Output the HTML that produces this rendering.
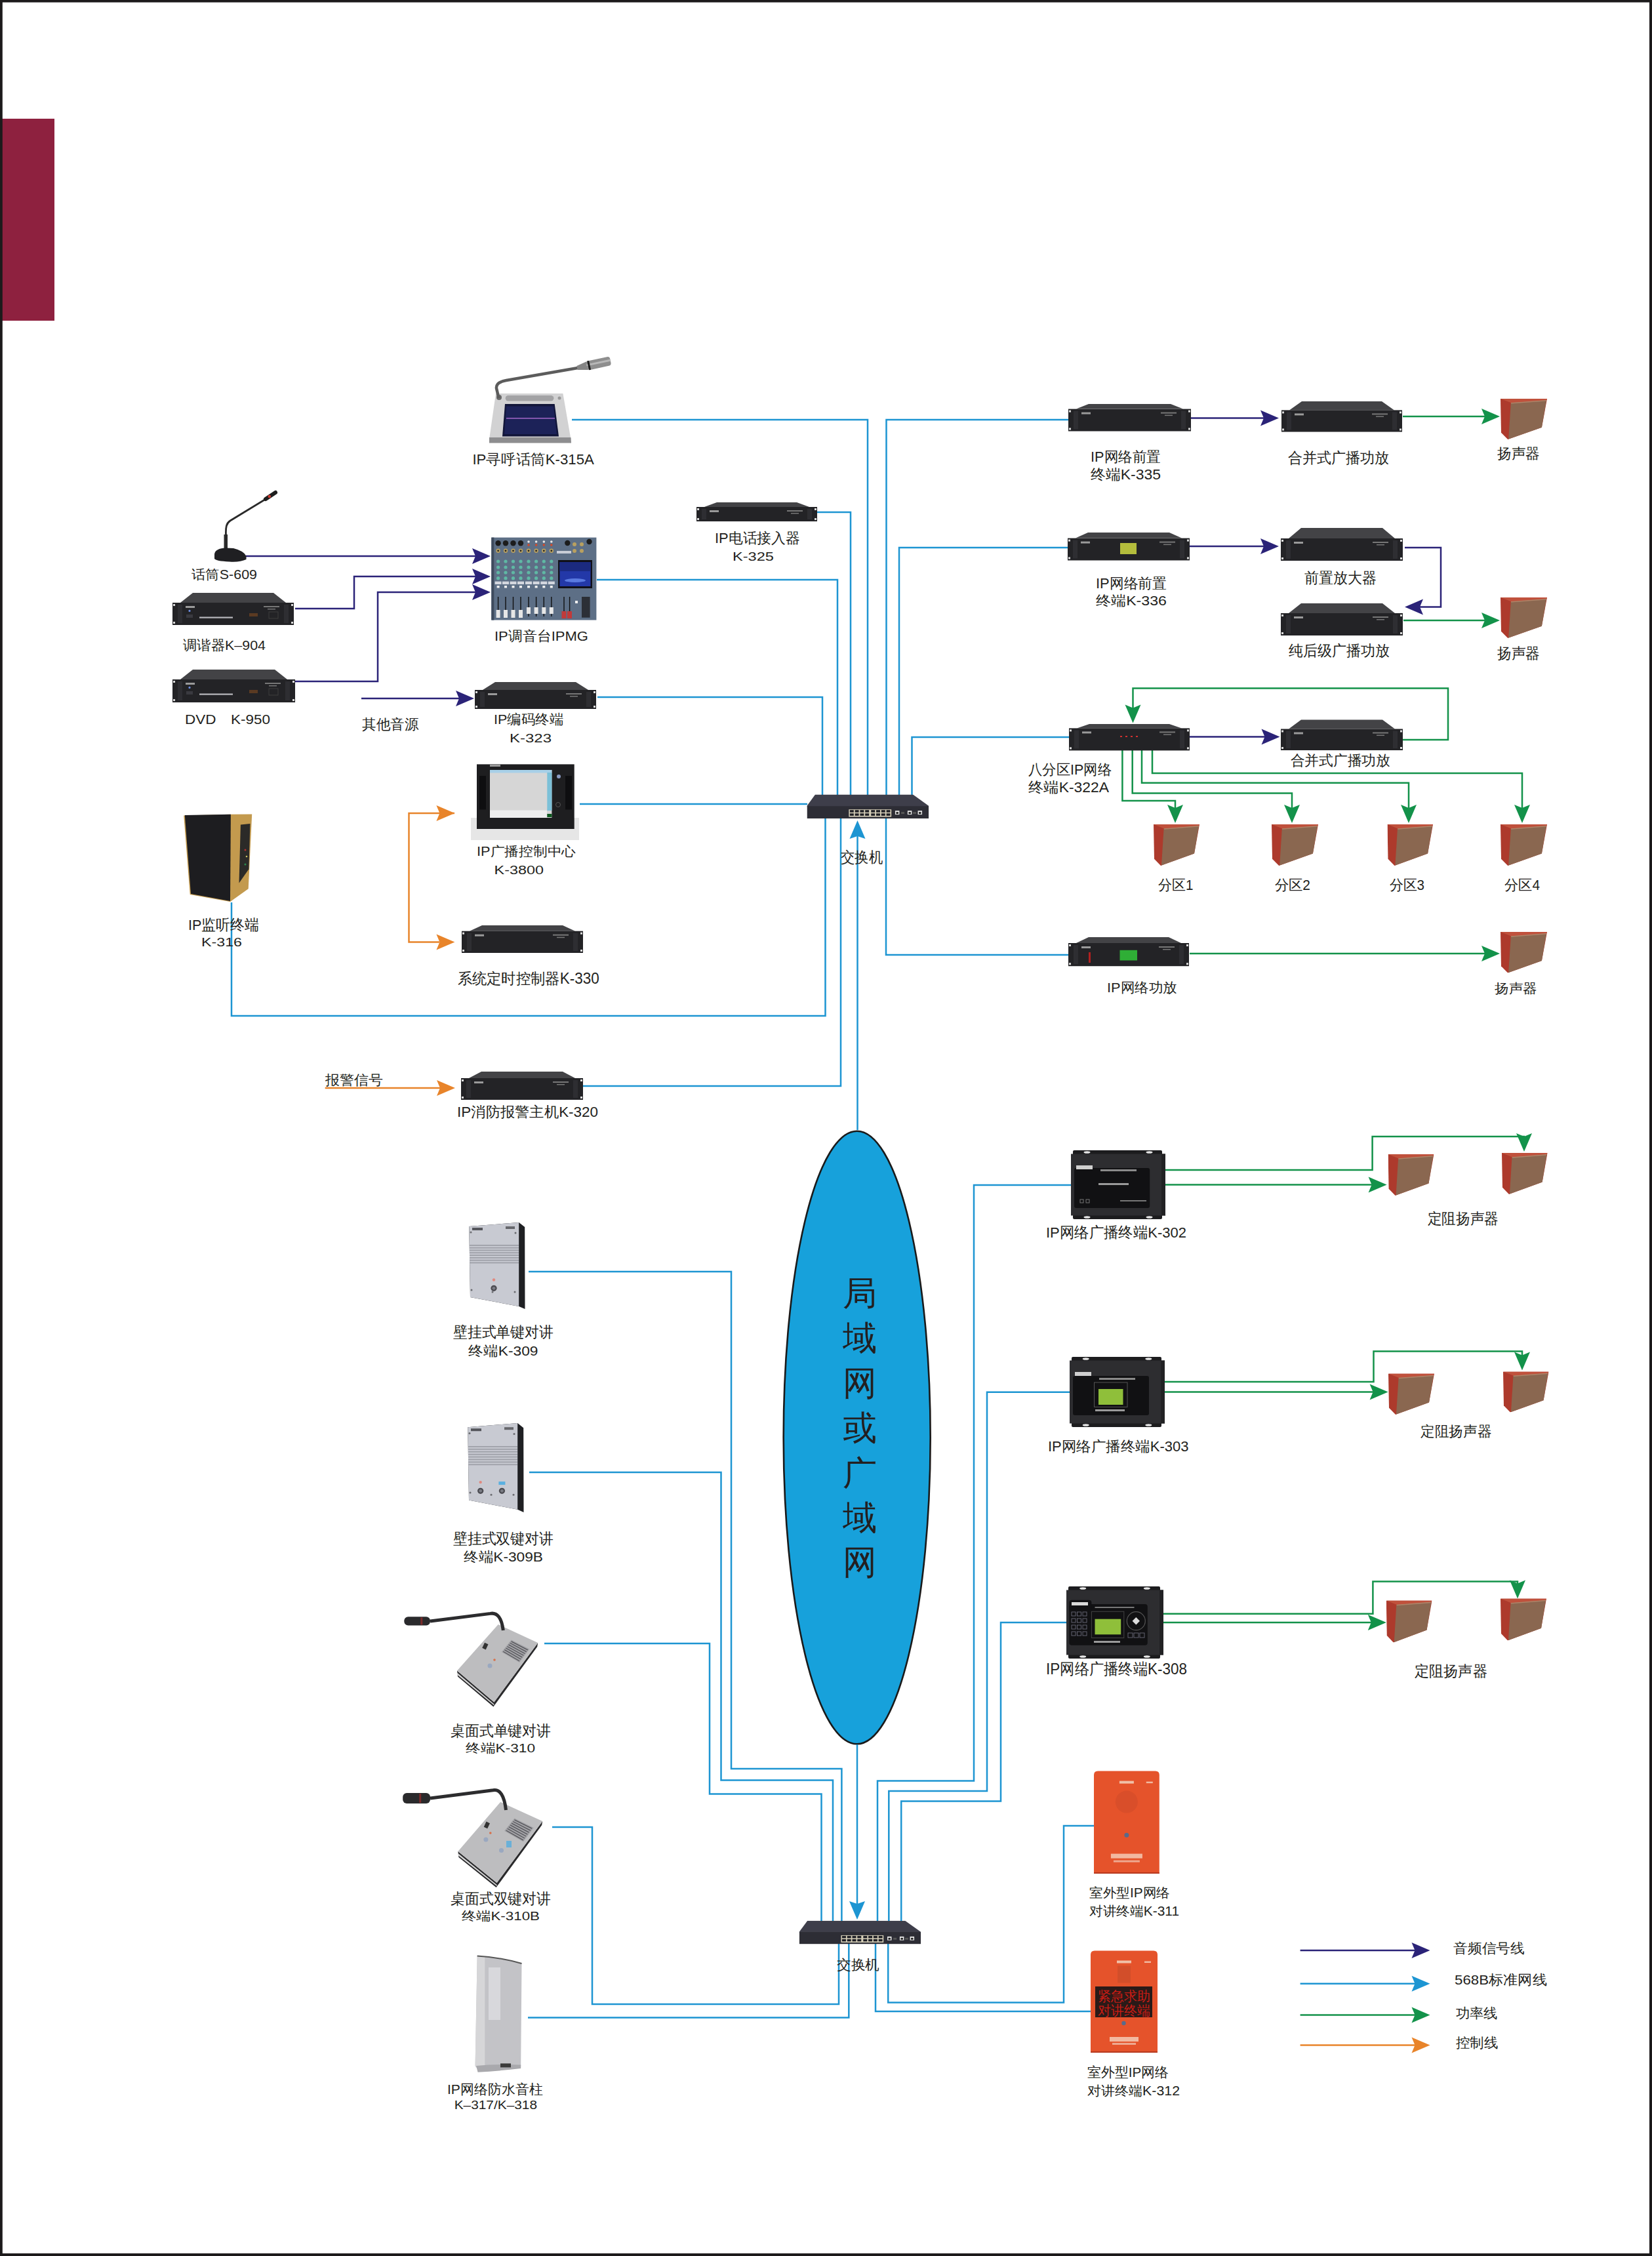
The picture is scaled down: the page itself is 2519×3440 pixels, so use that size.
<!DOCTYPE html>
<html><head><meta charset="utf-8"><style>
html,body{margin:0;padding:0;background:#fff;}
svg{display:block;font-family:"Liberation Sans",sans-serif;}
</style></head><body>
<svg width="2519" height="3440" viewBox="0 0 2519 3440">

<defs>
<symbol id="rack" viewBox="0 0 186 47" preserveAspectRatio="none">
  <polygon points="31,0 155,0 173,13 12,13" fill="#434346"/>
  <rect x="0" y="13" width="186" height="34" fill="#232326"/>
  <rect x="8" y="16" width="7" height="28" fill="#2c2c30"/>
  <rect x="171" y="16" width="7" height="28" fill="#2c2c30"/>
  <rect x="1" y="15" width="3" height="3" fill="#ddd"/>
  <rect x="1" y="42" width="3" height="3" fill="#ddd"/>
  <rect x="182" y="15" width="3" height="3" fill="#ddd"/>
  <rect x="182" y="42" width="3" height="3" fill="#ddd"/>
  <rect x="20" y="19" width="14" height="3" fill="#9a9a9a"/>
  <rect x="140" y="19" width="24" height="2" fill="#777"/>
  <rect x="146" y="23" width="12" height="1.5" fill="#777"/>
</symbol>
<symbol id="rack1u" viewBox="0 0 186 30" preserveAspectRatio="none">
  <polygon points="25,0 160,0 173,7 12,7" fill="#3d3d40"/>
  <rect x="0" y="7" width="186" height="23" fill="#1f1f22"/>
  <rect x="8" y="10" width="5" height="17" fill="#2c2c30"/>
  <rect x="173" y="10" width="5" height="17" fill="#2c2c30"/>
  <rect x="20" y="11" width="14" height="3" fill="#9a9a9a"/>
  <rect x="140" y="12" width="24" height="2" fill="#777"/>
</symbol>
<symbol id="spk" viewBox="0 0 70 61" preserveAspectRatio="none">
  <polygon points="0,0 70,0 62,43 11,61 1,51" fill="#ad3a2c"/>
  <polygon points="15.6,6 69,2 62,43 12,60.5" fill="#8a6750"/>
  <polygon points="0,0 70,0 69,2 15.6,6" fill="#c0513c"/>
  <polygon points="15.6,6 69,2 68.5,3.5 16,7.5" fill="#b08468"/>
</symbol>
<symbol id="box3" viewBox="0 0 145 105" preserveAspectRatio="none">
  <rect x="4" y="3" width="136" height="99" rx="3" fill="#222226"/>
  <rect x="0" y="6" width="145" height="93" rx="2" fill="#1a1a1e"/>
  <rect x="10" y="10" width="124" height="82" fill="#141417"/>
  <rect x="20" y="2" width="10" height="3" fill="#ccc"/>
  <rect x="115" y="2" width="10" height="3" fill="#ccc"/>
  <rect x="20" y="100" width="10" height="3" fill="#ccc"/>
  <rect x="115" y="100" width="10" height="3" fill="#ccc"/>
  <rect x="9" y="24" width="22" height="5" fill="#aaa"/>
</symbol>
<symbol id="switch" viewBox="0 0 186 37" preserveAspectRatio="none">
  <polygon points="12.6,0 162,0 186,17.5 186,19 0,19 0,17.5" fill="#3e3e4a"/>
  <rect x="0" y="18" width="186" height="19" fill="#2d2d35"/>
  <rect x="64" y="23" width="65" height="11.5" fill="#d6cfb8"/>
  <rect x="65.5" y="24.0" width="6" height="3.6" fill="#1e1e24"/>
  <rect x="65.5" y="29.2" width="6" height="3.6" fill="#1e1e24"/>
  <rect x="73.3" y="24.0" width="6" height="3.6" fill="#1e1e24"/>
  <rect x="73.3" y="29.2" width="6" height="3.6" fill="#1e1e24"/>
  <rect x="81.1" y="24.0" width="6" height="3.6" fill="#1e1e24"/>
  <rect x="81.1" y="29.2" width="6" height="3.6" fill="#1e1e24"/>
  <rect x="88.9" y="24.0" width="6" height="3.6" fill="#1e1e24"/>
  <rect x="88.9" y="29.2" width="6" height="3.6" fill="#1e1e24"/>
  <rect x="98.0" y="24.0" width="6" height="3.6" fill="#1e1e24"/>
  <rect x="98.0" y="29.2" width="6" height="3.6" fill="#1e1e24"/>
  <rect x="105.8" y="24.0" width="6" height="3.6" fill="#1e1e24"/>
  <rect x="105.8" y="29.2" width="6" height="3.6" fill="#1e1e24"/>
  <rect x="113.6" y="24.0" width="6" height="3.6" fill="#1e1e24"/>
  <rect x="113.6" y="29.2" width="6" height="3.6" fill="#1e1e24"/>
  <rect x="121.4" y="24.0" width="6" height="3.6" fill="#1e1e24"/>
  <rect x="121.4" y="29.2" width="6" height="3.6" fill="#1e1e24"/>
  <rect x="134.8" y="25" width="6.5" height="6" fill="#e6e6e6"/><rect x="136.3" y="27" width="3.5" height="3" fill="#222"/>
  <rect x="144" y="27" width="5" height="3" fill="#555"/>
  <rect x="153.8" y="25" width="6.5" height="6" fill="#e6e6e6"/><rect x="155.3" y="27" width="3.5" height="3" fill="#222"/>
  <rect x="162" y="27" width="5" height="3" fill="#555"/>
  <rect x="169.5" y="25" width="6.5" height="6" fill="#e6e6e6"/><rect x="171" y="27" width="3.5" height="3" fill="#222"/>
</symbol>
</defs>

<rect x="0" y="0" width="2519" height="3440" fill="#ffffff"/>
<rect x="3" y="181" width="80" height="308" fill="#8e213f"/>
<rect x="0" y="0" width="2519" height="3.6" fill="#1c1a1b"/>
<rect x="0" y="0" width="3.8" height="3440" fill="#1c1a1b"/>
<rect x="2515" y="0" width="4" height="3440" fill="#1c1a1b"/>
<rect x="0" y="3436" width="2519" height="4" fill="#1c1a1b"/>
<ellipse cx="1306.7" cy="2192" rx="112" ry="467.3" fill="#17a1db" stroke="#1a1a1a" stroke-width="2.6"/>
<polyline points="872,640 1323,640 1323,1212" fill="none" stroke="#1d95d2" stroke-width="2.5" stroke-linejoin="miter"/>
<polyline points="1629,640 1351.5,640 1351.5,1212" fill="none" stroke="#1d95d2" stroke-width="2.5" stroke-linejoin="miter"/>
<polyline points="1246,781 1297,781 1297,1212" fill="none" stroke="#1d95d2" stroke-width="2.5" stroke-linejoin="miter"/>
<polyline points="910,884 1277,884 1277,1212" fill="none" stroke="#1d95d2" stroke-width="2.5" stroke-linejoin="miter"/>
<polyline points="1628,835 1371,835 1371,1212" fill="none" stroke="#1d95d2" stroke-width="2.5" stroke-linejoin="miter"/>
<polyline points="911,1063 1254,1063 1254,1212" fill="none" stroke="#1d95d2" stroke-width="2.5" stroke-linejoin="miter"/>
<polyline points="1630,1124 1390.5,1124 1390.5,1212" fill="none" stroke="#1d95d2" stroke-width="2.5" stroke-linejoin="miter"/>
<polyline points="884,1226 1231,1226" fill="none" stroke="#1d95d2" stroke-width="2.5" stroke-linejoin="miter"/>
<polyline points="353,1376 353,1549 1258.5,1549 1258.5,1246" fill="none" stroke="#1d95d2" stroke-width="2.5" stroke-linejoin="miter"/>
<polyline points="889,1656 1282,1656 1282,1246" fill="none" stroke="#1d95d2" stroke-width="2.5" stroke-linejoin="miter"/>
<polyline points="1307.5,1723 1307.5,1270" fill="none" stroke="#1d95d2" stroke-width="2.5" stroke-linejoin="miter"/>
<polygon points="1307.5,1251.0 1295.5,1279.0 1307.5,1275.0 1319.5,1279.0" fill="#1d95d2"/>
<polyline points="1351,1246 1351,1456 1630,1456" fill="none" stroke="#1d95d2" stroke-width="2.5" stroke-linejoin="miter"/>
<polyline points="1307,2660 1307,2905" fill="none" stroke="#1d95d2" stroke-width="2.5" stroke-linejoin="miter"/>
<polygon points="1307.0,2927.0 1295.0,2899.0 1307.0,2903.0 1319.0,2899.0" fill="#1d95d2"/>
<polyline points="806,1939 1115,1939 1115,2697 1283.4,2697 1283.4,2930" fill="none" stroke="#1d95d2" stroke-width="2.5" stroke-linejoin="miter"/>
<polyline points="807,2245 1099.5,2245 1099.5,2714.5 1270,2714.5 1270,2930" fill="none" stroke="#1d95d2" stroke-width="2.5" stroke-linejoin="miter"/>
<polyline points="830,2506 1082,2506 1082,2735.5 1252.5,2735.5 1252.5,2930" fill="none" stroke="#1d95d2" stroke-width="2.5" stroke-linejoin="miter"/>
<polyline points="842,2786 903,2786 903,3056 1279,3056 1279,2962" fill="none" stroke="#1d95d2" stroke-width="2.5" stroke-linejoin="miter"/>
<polyline points="805,3076.6 1294.3,3076.6 1294.3,2962" fill="none" stroke="#1d95d2" stroke-width="2.5" stroke-linejoin="miter"/>
<polyline points="1633,1807 1485,1807 1485,2715.5 1338,2715.5 1338,2930" fill="none" stroke="#1d95d2" stroke-width="2.5" stroke-linejoin="miter"/>
<polyline points="1631,2122.7 1505,2122.7 1505,2731 1355.3,2731 1355.3,2930" fill="none" stroke="#1d95d2" stroke-width="2.5" stroke-linejoin="miter"/>
<polyline points="1626,2474 1526,2474 1526,2746.4 1374.2,2746.4 1374.2,2930" fill="none" stroke="#1d95d2" stroke-width="2.5" stroke-linejoin="miter"/>
<polyline points="1668,2784 1622,2784 1622,3053.4 1354.2,3053.4 1354.2,2962" fill="none" stroke="#1d95d2" stroke-width="2.5" stroke-linejoin="miter"/>
<polyline points="1663,3067 1335,3067 1335,2962" fill="none" stroke="#1d95d2" stroke-width="2.5" stroke-linejoin="miter"/>
<polyline points="375,848 725,848" fill="none" stroke="#2b2378" stroke-width="2.5" stroke-linejoin="miter"/>
<polygon points="748.0,848.0 720.0,836.0 725.0,848.0 720.0,860.0" fill="#2b2378"/>
<polyline points="450,928 540,928 540,879 725,879" fill="none" stroke="#2b2378" stroke-width="2.5" stroke-linejoin="miter"/>
<polygon points="748.0,879.0 720.0,867.0 725.0,879.0 720.0,891.0" fill="#2b2378"/>
<polyline points="450,1039 576,1039 576,903 725,903" fill="none" stroke="#2b2378" stroke-width="2.5" stroke-linejoin="miter"/>
<polygon points="748.0,903.0 720.0,891.0 725.0,903.0 720.0,915.0" fill="#2b2378"/>
<polyline points="551,1065 700,1065" fill="none" stroke="#2b2378" stroke-width="2.5" stroke-linejoin="miter"/>
<polygon points="723.0,1065.0 695.0,1053.0 700.0,1065.0 695.0,1077.0" fill="#2b2378"/>
<polyline points="1816,637.5 1928,637.5" fill="none" stroke="#2b2378" stroke-width="2.5" stroke-linejoin="miter"/>
<polygon points="1950.0,637.5 1922.0,625.5 1927.0,637.5 1922.0,649.5" fill="#2b2378"/>
<polyline points="1814,833 1928,833" fill="none" stroke="#2b2378" stroke-width="2.5" stroke-linejoin="miter"/>
<polygon points="1950.0,833.0 1922.0,821.0 1927.0,833.0 1922.0,845.0" fill="#2b2378"/>
<polyline points="2142,835 2197,835 2197,925.6 2165,925.6" fill="none" stroke="#2b2378" stroke-width="2.5" stroke-linejoin="miter"/>
<polygon points="2142.0,925.6 2170.0,913.6 2165.0,925.6 2170.0,937.6" fill="#2b2378"/>
<polyline points="1814,1123.6 1930,1123.6" fill="none" stroke="#2b2378" stroke-width="2.5" stroke-linejoin="miter"/>
<polygon points="1951.5,1123.6 1923.5,1111.6 1928.5,1123.6 1923.5,1135.6" fill="#2b2378"/>
<polyline points="2139,635 2265,635" fill="none" stroke="#13924a" stroke-width="2.5" stroke-linejoin="miter"/>
<polygon points="2287.0,635.0 2259.0,623.0 2264.0,635.0 2259.0,647.0" fill="#13924a"/>
<polyline points="2140,946 2265,946" fill="none" stroke="#13924a" stroke-width="2.5" stroke-linejoin="miter"/>
<polygon points="2287.0,946.0 2259.0,934.0 2264.0,946.0 2259.0,958.0" fill="#13924a"/>
<polyline points="2139,1128 2208,1128 2208,1049.6 1727.5,1049.6 1727.5,1080" fill="none" stroke="#13924a" stroke-width="2.5" stroke-linejoin="miter"/>
<polygon points="1727.5,1102.6 1715.5,1074.6 1727.5,1079.6 1739.5,1074.6" fill="#13924a"/>
<polyline points="1711.4,1144 1711.4,1221 1792,1221 1792,1235" fill="none" stroke="#13924a" stroke-width="2.5" stroke-linejoin="miter"/>
<polygon points="1792.0,1255.0 1780.0,1227.0 1792.0,1232.0 1804.0,1227.0" fill="#13924a"/>
<polyline points="1726.7,1144 1726.7,1209.4 1970,1209.4 1970,1235" fill="none" stroke="#13924a" stroke-width="2.5" stroke-linejoin="miter"/>
<polygon points="1970.0,1255.0 1958.0,1227.0 1970.0,1232.0 1982.0,1227.0" fill="#13924a"/>
<polyline points="1741,1144 1741,1193.7 2148,1193.7 2148,1235" fill="none" stroke="#13924a" stroke-width="2.5" stroke-linejoin="miter"/>
<polygon points="2148.0,1255.0 2136.0,1227.0 2148.0,1232.0 2160.0,1227.0" fill="#13924a"/>
<polyline points="1757,1144 1757,1179 2321,1179 2321,1235" fill="none" stroke="#13924a" stroke-width="2.5" stroke-linejoin="miter"/>
<polygon points="2321.0,1255.0 2309.0,1227.0 2321.0,1232.0 2333.0,1227.0" fill="#13924a"/>
<polyline points="1814,1454 2265,1454" fill="none" stroke="#13924a" stroke-width="2.5" stroke-linejoin="miter"/>
<polygon points="2287.0,1454.0 2259.0,1442.0 2264.0,1454.0 2259.0,1466.0" fill="#13924a"/>
<polyline points="1777,1784 2092.6,1784 2092.6,1733 2324,1733 2324,1740" fill="none" stroke="#13924a" stroke-width="2.5" stroke-linejoin="miter"/>
<polygon points="2324.0,1756.0 2312.0,1728.0 2324.0,1733.0 2336.0,1728.0" fill="#13924a"/>
<polyline points="1777,1806.6 2095,1806.6" fill="none" stroke="#13924a" stroke-width="2.5" stroke-linejoin="miter"/>
<polygon points="2114.6,1806.6 2086.6,1794.6 2091.6,1806.6 2086.6,1818.6" fill="#13924a"/>
<polyline points="1776,2107 2094.5,2107 2094.5,2060.5 2321,2060.5 2321,2070" fill="none" stroke="#13924a" stroke-width="2.5" stroke-linejoin="miter"/>
<polygon points="2321.0,2089.5 2309.0,2061.5 2321.0,2066.5 2333.0,2061.5" fill="#13924a"/>
<polyline points="1776,2122.5 2095,2122.5" fill="none" stroke="#13924a" stroke-width="2.5" stroke-linejoin="miter"/>
<polygon points="2116.6,2122.5 2088.6,2110.5 2093.6,2122.5 2088.6,2134.5" fill="#13924a"/>
<polyline points="1774,2460.8 2093.4,2460.8 2093.4,2411.4 2314,2411.4 2314,2420" fill="none" stroke="#13924a" stroke-width="2.5" stroke-linejoin="miter"/>
<polygon points="2314.0,2437.6 2302.0,2409.6 2314.0,2414.6 2326.0,2409.6" fill="#13924a"/>
<polyline points="1774,2474 2092,2474" fill="none" stroke="#13924a" stroke-width="2.5" stroke-linejoin="miter"/>
<polygon points="2113.8,2474.0 2085.8,2462.0 2090.8,2474.0 2085.8,2486.0" fill="#13924a"/>
<polyline points="693,1240 623.5,1240 623.5,1436.6 670,1436.6" fill="none" stroke="#e8842a" stroke-width="2.5" stroke-linejoin="miter"/>
<polygon points="693.4,1240.0 665.4,1228.0 670.4,1240.0 665.4,1252.0" fill="#e8842a"/>
<polygon points="693.4,1436.6 665.4,1424.6 670.4,1436.6 665.4,1448.6" fill="#e8842a"/>
<polyline points="495.7,1659 672,1659" fill="none" stroke="#e8842a" stroke-width="2.5" stroke-linejoin="miter"/>
<polygon points="694.0,1659.0 666.0,1647.0 671.0,1659.0 666.0,1671.0" fill="#e8842a"/>
<polyline points="1982.6,2974 2160,2974" fill="none" stroke="#2b2378" stroke-width="2.5" stroke-linejoin="miter"/>
<polygon points="2180.5,2974.0 2152.5,2962.0 2157.5,2974.0 2152.5,2986.0" fill="#2b2378"/>
<polyline points="1982.6,3024.7 2160,3024.7" fill="none" stroke="#1d95d2" stroke-width="2.5" stroke-linejoin="miter"/>
<polygon points="2180.5,3024.7 2152.5,3012.7 2157.5,3024.7 2152.5,3036.7" fill="#1d95d2"/>
<polyline points="1982.6,3072.4 2160,3072.4" fill="none" stroke="#13924a" stroke-width="2.5" stroke-linejoin="miter"/>
<polygon points="2180.5,3072.4 2152.5,3060.4 2157.5,3072.4 2152.5,3084.4" fill="#13924a"/>
<polyline points="1982.6,3118.5 2160,3118.5" fill="none" stroke="#e8842a" stroke-width="2.5" stroke-linejoin="miter"/>
<polygon points="2180.5,3118.5 2152.5,3106.5 2157.5,3118.5 2152.5,3130.5" fill="#e8842a"/>
<polygon points="294,904 417,904 436,919 275,919" fill="#434346"/>
<rect x="263" y="919" width="185" height="34" fill="#232326"/>
<rect x="271" y="922" width="7" height="28" fill="#2e2e32"/>
<rect x="433" y="922" width="7" height="28" fill="#2e2e32"/>
<rect x="264" y="921" width="3" height="3" fill="#ddd"/>
<rect x="444" y="921" width="3" height="3" fill="#ddd"/>
<rect x="264" y="948" width="3" height="3" fill="#ddd"/>
<rect x="444" y="948" width="3" height="3" fill="#ddd"/>
<rect x="283" y="924" width="14" height="3" fill="#9a9a9a"/>
<rect x="402" y="924" width="24" height="2" fill="#777"/>
<rect x="408" y="928" width="12" height="1.5" fill="#777"/>
<polygon points="294,1021 419,1021 438,1036 275,1036" fill="#434346"/>
<rect x="263" y="1036" width="187" height="35" fill="#232326"/>
<rect x="271" y="1039" width="7" height="29" fill="#2e2e32"/>
<rect x="435" y="1039" width="7" height="29" fill="#2e2e32"/>
<rect x="264" y="1038" width="3" height="3" fill="#ddd"/>
<rect x="446" y="1038" width="3" height="3" fill="#ddd"/>
<rect x="264" y="1066" width="3" height="3" fill="#ddd"/>
<rect x="446" y="1066" width="3" height="3" fill="#ddd"/>
<rect x="283" y="1041" width="14" height="3" fill="#9a9a9a"/>
<rect x="404" y="1041" width="24" height="2" fill="#777"/>
<rect x="410" y="1045" width="12" height="1.5" fill="#777"/>
<polygon points="755,1040 878,1040 897,1052 736,1052" fill="#434346"/>
<rect x="724" y="1052" width="185" height="29" fill="#232326"/>
<rect x="732" y="1055" width="7" height="23" fill="#2e2e32"/>
<rect x="894" y="1055" width="7" height="23" fill="#2e2e32"/>
<rect x="725" y="1054" width="3" height="3" fill="#ddd"/>
<rect x="905" y="1054" width="3" height="3" fill="#ddd"/>
<rect x="725" y="1076" width="3" height="3" fill="#ddd"/>
<rect x="905" y="1076" width="3" height="3" fill="#ddd"/>
<rect x="744" y="1057" width="14" height="3" fill="#9a9a9a"/>
<rect x="863" y="1057" width="24" height="2" fill="#777"/>
<rect x="869" y="1061" width="12" height="1.5" fill="#777"/>
<polygon points="735,1411 858,1411 877,1419.7 716,1419.7" fill="#434346"/>
<rect x="704" y="1419.7" width="185" height="33.299999999999955" fill="#232326"/>
<rect x="712" y="1422.7" width="7" height="27.299999999999955" fill="#2e2e32"/>
<rect x="874" y="1422.7" width="7" height="27.299999999999955" fill="#2e2e32"/>
<rect x="705" y="1421.7" width="3" height="3" fill="#ddd"/>
<rect x="885" y="1421.7" width="3" height="3" fill="#ddd"/>
<rect x="705" y="1448" width="3" height="3" fill="#ddd"/>
<rect x="885" y="1448" width="3" height="3" fill="#ddd"/>
<rect x="724" y="1424.7" width="14" height="3" fill="#9a9a9a"/>
<rect x="843" y="1424.7" width="24" height="2" fill="#777"/>
<rect x="849" y="1428.7" width="12" height="1.5" fill="#777"/>
<polygon points="734,1634 858,1634 877,1644 715,1644" fill="#434346"/>
<rect x="703" y="1644" width="186" height="33" fill="#232326"/>
<rect x="711" y="1647" width="7" height="27" fill="#2e2e32"/>
<rect x="874" y="1647" width="7" height="27" fill="#2e2e32"/>
<rect x="704" y="1646" width="3" height="3" fill="#ddd"/>
<rect x="885" y="1646" width="3" height="3" fill="#ddd"/>
<rect x="704" y="1672" width="3" height="3" fill="#ddd"/>
<rect x="885" y="1672" width="3" height="3" fill="#ddd"/>
<rect x="723" y="1649" width="14" height="3" fill="#9a9a9a"/>
<rect x="843" y="1649" width="24" height="2" fill="#777"/>
<rect x="849" y="1653" width="12" height="1.5" fill="#777"/>
<polygon points="1660,616 1785,616 1804,623.6 1641,623.6" fill="#434346"/>
<rect x="1629" y="623.6" width="187" height="33.89999999999998" fill="#232326"/>
<rect x="1637" y="626.6" width="7" height="27.899999999999977" fill="#2e2e32"/>
<rect x="1801" y="626.6" width="7" height="27.899999999999977" fill="#2e2e32"/>
<rect x="1630" y="625.6" width="3" height="3" fill="#ddd"/>
<rect x="1812" y="625.6" width="3" height="3" fill="#ddd"/>
<rect x="1630" y="652.5" width="3" height="3" fill="#ddd"/>
<rect x="1812" y="652.5" width="3" height="3" fill="#ddd"/>
<rect x="1649" y="628.6" width="14" height="3" fill="#9a9a9a"/>
<rect x="1770" y="628.6" width="24" height="2" fill="#777"/>
<rect x="1776" y="632.6" width="12" height="1.5" fill="#777"/>
<polygon points="1985,612 2107,612 2126,625.4 1966,625.4" fill="#434346"/>
<rect x="1954" y="625.4" width="184" height="33.10000000000002" fill="#232326"/>
<rect x="1962" y="628.4" width="7" height="27.100000000000023" fill="#2e2e32"/>
<rect x="2123" y="628.4" width="7" height="27.100000000000023" fill="#2e2e32"/>
<rect x="1955" y="627.4" width="3" height="3" fill="#ddd"/>
<rect x="2134" y="627.4" width="3" height="3" fill="#ddd"/>
<rect x="1955" y="653.5" width="3" height="3" fill="#ddd"/>
<rect x="2134" y="653.5" width="3" height="3" fill="#ddd"/>
<rect x="1974" y="630.4" width="14" height="3" fill="#9a9a9a"/>
<rect x="2092" y="630.4" width="24" height="2" fill="#777"/>
<rect x="2098" y="634.4" width="12" height="1.5" fill="#777"/>
<polygon points="1659,812 1783,812 1802,820.6 1640,820.6" fill="#434346"/>
<rect x="1628" y="820.6" width="186" height="33.89999999999998" fill="#232326"/>
<rect x="1636" y="823.6" width="7" height="27.899999999999977" fill="#2e2e32"/>
<rect x="1799" y="823.6" width="7" height="27.899999999999977" fill="#2e2e32"/>
<rect x="1629" y="822.6" width="3" height="3" fill="#ddd"/>
<rect x="1810" y="822.6" width="3" height="3" fill="#ddd"/>
<rect x="1629" y="849.5" width="3" height="3" fill="#ddd"/>
<rect x="1810" y="849.5" width="3" height="3" fill="#ddd"/>
<rect x="1648" y="825.6" width="14" height="3" fill="#9a9a9a"/>
<rect x="1768" y="825.6" width="24" height="2" fill="#777"/>
<rect x="1774" y="829.6" width="12" height="1.5" fill="#777"/>
<polygon points="1984,805 2108,805 2127,821 1965,821" fill="#434346"/>
<rect x="1953" y="821" width="186" height="34" fill="#232326"/>
<rect x="1961" y="824" width="7" height="28" fill="#2e2e32"/>
<rect x="2124" y="824" width="7" height="28" fill="#2e2e32"/>
<rect x="1954" y="823" width="3" height="3" fill="#ddd"/>
<rect x="2135" y="823" width="3" height="3" fill="#ddd"/>
<rect x="1954" y="850" width="3" height="3" fill="#ddd"/>
<rect x="2135" y="850" width="3" height="3" fill="#ddd"/>
<rect x="1973" y="826" width="14" height="3" fill="#9a9a9a"/>
<rect x="2093" y="826" width="24" height="2" fill="#777"/>
<rect x="2099" y="830" width="12" height="1.5" fill="#777"/>
<polygon points="1984,920 2108,920 2127,935 1965,935" fill="#434346"/>
<rect x="1953" y="935" width="186" height="34" fill="#232326"/>
<rect x="1961" y="938" width="7" height="28" fill="#2e2e32"/>
<rect x="2124" y="938" width="7" height="28" fill="#2e2e32"/>
<rect x="1954" y="937" width="3" height="3" fill="#ddd"/>
<rect x="2135" y="937" width="3" height="3" fill="#ddd"/>
<rect x="1954" y="964" width="3" height="3" fill="#ddd"/>
<rect x="2135" y="964" width="3" height="3" fill="#ddd"/>
<rect x="1973" y="940" width="14" height="3" fill="#9a9a9a"/>
<rect x="2093" y="940" width="24" height="2" fill="#777"/>
<rect x="2099" y="944" width="12" height="1.5" fill="#777"/>
<polygon points="1661,1104 1783,1104 1802,1110.4 1642,1110.4" fill="#434346"/>
<rect x="1630" y="1110.4" width="184" height="34.0" fill="#232326"/>
<rect x="1638" y="1113.4" width="7" height="28.0" fill="#2e2e32"/>
<rect x="1799" y="1113.4" width="7" height="28.0" fill="#2e2e32"/>
<rect x="1631" y="1112.4" width="3" height="3" fill="#ddd"/>
<rect x="1810" y="1112.4" width="3" height="3" fill="#ddd"/>
<rect x="1631" y="1139.4" width="3" height="3" fill="#ddd"/>
<rect x="1810" y="1139.4" width="3" height="3" fill="#ddd"/>
<rect x="1650" y="1115.4" width="14" height="3" fill="#9a9a9a"/>
<rect x="1768" y="1115.4" width="24" height="2" fill="#777"/>
<rect x="1774" y="1119.4" width="12" height="1.5" fill="#777"/>
<polygon points="1984,1097.5 2108,1097.5 2127,1111.5 1965,1111.5" fill="#434346"/>
<rect x="1953" y="1111.5" width="186" height="32.5" fill="#232326"/>
<rect x="1961" y="1114.5" width="7" height="26.5" fill="#2e2e32"/>
<rect x="2124" y="1114.5" width="7" height="26.5" fill="#2e2e32"/>
<rect x="1954" y="1113.5" width="3" height="3" fill="#ddd"/>
<rect x="2135" y="1113.5" width="3" height="3" fill="#ddd"/>
<rect x="1954" y="1139" width="3" height="3" fill="#ddd"/>
<rect x="2135" y="1139" width="3" height="3" fill="#ddd"/>
<rect x="1973" y="1116.5" width="14" height="3" fill="#9a9a9a"/>
<rect x="2093" y="1116.5" width="24" height="2" fill="#777"/>
<rect x="2099" y="1120.5" width="12" height="1.5" fill="#777"/>
<polygon points="1660,1429 1782,1429 1801,1438 1641,1438" fill="#434346"/>
<rect x="1629" y="1438" width="184" height="35.200000000000045" fill="#232326"/>
<rect x="1637" y="1441" width="7" height="29.200000000000045" fill="#2e2e32"/>
<rect x="1798" y="1441" width="7" height="29.200000000000045" fill="#2e2e32"/>
<rect x="1630" y="1440" width="3" height="3" fill="#ddd"/>
<rect x="1809" y="1440" width="3" height="3" fill="#ddd"/>
<rect x="1630" y="1468.2" width="3" height="3" fill="#ddd"/>
<rect x="1809" y="1468.2" width="3" height="3" fill="#ddd"/>
<rect x="1649" y="1443" width="14" height="3" fill="#9a9a9a"/>
<rect x="1767" y="1443" width="24" height="2" fill="#777"/>
<rect x="1773" y="1447" width="12" height="1.5" fill="#777"/>
<polygon points="1093,766 1215,766 1234,773 1074,773" fill="#434346"/>
<rect x="1062" y="773" width="184" height="22" fill="#232326"/>
<rect x="1070" y="776" width="7" height="16" fill="#2e2e32"/>
<rect x="1231" y="776" width="7" height="16" fill="#2e2e32"/>
<rect x="1063" y="775" width="3" height="3" fill="#ddd"/>
<rect x="1242" y="775" width="3" height="3" fill="#ddd"/>
<rect x="1063" y="790" width="3" height="3" fill="#ddd"/>
<rect x="1242" y="790" width="3" height="3" fill="#ddd"/>
<rect x="1082" y="778" width="14" height="3" fill="#9a9a9a"/>
<rect x="1200" y="778" width="24" height="2" fill="#777"/>
<rect x="1206" y="782" width="12" height="1.5" fill="#777"/>
<rect x="304" y="940.5" width="51" height="2.2" fill="#b8b8bc"/>
<circle cx="289" cy="931.4" r="1.6" fill="#6a8ae0"/>
<rect x="284" y="937" width="10" height="5" fill="#3a3a40"/>
<rect x="380" y="935" width="13" height="5" fill="#5a3a22"/>
<rect x="410" y="933" width="14" height="10" fill="none" stroke="#444" stroke-width="0.8"/>
<rect x="304" y="1057.5" width="51" height="2.2" fill="#b8b8bc"/>
<circle cx="289" cy="1048.4" r="1.6" fill="#6a8ae0"/>
<rect x="284" y="1054" width="10" height="5" fill="#3a3a40"/>
<rect x="380" y="1052" width="13" height="5" fill="#5a3a22"/>
<rect x="410" y="1050" width="14" height="10" fill="none" stroke="#444" stroke-width="0.8"/>
<use href="#spk" x="2288" y="608" width="71" height="62"/>
<use href="#spk" x="2288" y="911" width="71" height="62"/>
<use href="#spk" x="1759" y="1257" width="70" height="63"/>
<use href="#spk" x="1939" y="1257" width="71" height="63"/>
<use href="#spk" x="2115.5" y="1257" width="69.5" height="63"/>
<use href="#spk" x="2288" y="1257" width="71" height="63"/>
<use href="#spk" x="2288" y="1421" width="71" height="62.5"/>
<use href="#spk" x="2116.6" y="1760" width="69.80000000000018" height="63"/>
<use href="#spk" x="2290" y="1758" width="69.59999999999991" height="63"/>
<use href="#spk" x="2117" y="2094.6" width="70" height="62.40000000000009"/>
<use href="#spk" x="2292" y="2091.5" width="69.5" height="62.0"/>
<use href="#spk" x="2113.8" y="2440.5" width="69.69999999999982" height="63.90000000000009"/>
<use href="#spk" x="2288" y="2437.6" width="70" height="63.90000000000009"/>
<rect x="1636" y="1754" width="136" height="8" rx="2" fill="#1c1c1e"/>
<rect x="1636" y="1851" width="136" height="8" rx="2" fill="#1c1c1e"/>
<rect x="1633" y="1759.5" width="144" height="94" fill="#2d2d30"/>
<rect x="1771" y="1759.5" width="6" height="94" fill="#222224"/>
<ellipse cx="1657.5" cy="1757" rx="5" ry="1.8" fill="#e8e8e8"/>
<ellipse cx="1657.5" cy="1856" rx="5" ry="1.8" fill="#e8e8e8"/>
<ellipse cx="1752.5" cy="1757" rx="5" ry="1.8" fill="#e8e8e8"/>
<ellipse cx="1752.5" cy="1856" rx="5" ry="1.8" fill="#e8e8e8"/>
<rect x="1638" y="1781" width="115.2" height="60.9" rx="3" fill="#111113"/>
<rect x="1641" y="1777" width="25" height="6" fill="#cfcfcf"/>
<rect x="1678" y="1783" width="55" height="3" fill="#8a8a8a"/>
<rect x="1675" y="1804" width="46" height="3" fill="#9a9a9a"/>
<rect x="1708" y="1830" width="40" height="2" fill="#777"/>
<rect x="1647" y="1829" width="5" height="5" fill="none" stroke="#777" stroke-width="1"/>
<rect x="1656" y="1829" width="5" height="5" fill="none" stroke="#777" stroke-width="1"/>
<rect x="1634" y="2069" width="137" height="8" rx="2" fill="#1c1c1e"/>
<rect x="1634" y="2168" width="137" height="8" rx="2" fill="#1c1c1e"/>
<rect x="1631" y="2074.5" width="145" height="96" fill="#2d2d30"/>
<rect x="1770" y="2074.5" width="6" height="96" fill="#222224"/>
<ellipse cx="1655.7" cy="2072" rx="5" ry="1.8" fill="#e8e8e8"/>
<ellipse cx="1655.7" cy="2173" rx="5" ry="1.8" fill="#e8e8e8"/>
<ellipse cx="1751.3" cy="2072" rx="5" ry="1.8" fill="#e8e8e8"/>
<ellipse cx="1751.3" cy="2173" rx="5" ry="1.8" fill="#e8e8e8"/>
<rect x="1636" y="2098" width="116.0" height="59.9" rx="3" fill="#111113"/>
<rect x="1639" y="2092" width="25" height="6" fill="#cfcfcf"/>
<rect x="1676" y="2101" width="55" height="3" fill="#8a8a8a"/>
<rect x="1668.5" y="2108" width="50.5" height="37.4" fill="none" stroke="#555" stroke-width="1"/>
<rect x="1675" y="2118" width="37.5" height="24" fill="#8fbf3a"/>
<rect x="1670" y="2149" width="45" height="3" fill="#9a9a9a"/>
<rect x="1629" y="2419" width="140" height="8" rx="2" fill="#1c1c1e"/>
<rect x="1629" y="2521" width="140" height="8" rx="2" fill="#1c1c1e"/>
<rect x="1626" y="2424.5" width="148" height="99" fill="#2d2d30"/>
<rect x="1768" y="2424.5" width="6" height="99" fill="#222224"/>
<ellipse cx="1651.2" cy="2422" rx="5" ry="1.8" fill="#e8e8e8"/>
<ellipse cx="1651.2" cy="2526" rx="5" ry="1.8" fill="#e8e8e8"/>
<ellipse cx="1748.8" cy="2422" rx="5" ry="1.8" fill="#e8e8e8"/>
<ellipse cx="1748.8" cy="2526" rx="5" ry="1.8" fill="#e8e8e8"/>
<rect x="1630.4" y="2446" width="119.4" height="62.8" rx="4" fill="#111113"/>
<rect x="1630.4" y="2439.8" width="34" height="20" rx="4" fill="#111113"/>
<rect x="1634" y="2443" width="25" height="5" fill="#d8d8d8"/>
<rect x="1669.5" y="2450" width="60" height="2" fill="#777"/>
<rect x="1664.4" y="2457.3" width="49.4" height="40.2" fill="none" stroke="#444" stroke-width="1"/>
<rect x="1669.5" y="2468.7" width="39.7" height="23.6" fill="#8fbf3a"/>
<circle cx="1732.3" cy="2471.7" r="14" fill="none" stroke="#555" stroke-width="1.2"/>
<polygon points="1732.3,2466 1738,2471.7 1732.3,2477.4 1726.6,2471.7" fill="#ddd"/>
<rect x="1634.0" y="2458.0" width="6" height="6" fill="none" stroke="#6a6a7a" stroke-width="0.9"/>
<rect x="1642.5" y="2458.0" width="6" height="6" fill="none" stroke="#6a6a7a" stroke-width="0.9"/>
<rect x="1651.0" y="2458.0" width="6" height="6" fill="none" stroke="#6a6a7a" stroke-width="0.9"/>
<rect x="1634.0" y="2468.0" width="6" height="6" fill="none" stroke="#6a6a7a" stroke-width="0.9"/>
<rect x="1642.5" y="2468.0" width="6" height="6" fill="none" stroke="#6a6a7a" stroke-width="0.9"/>
<rect x="1651.0" y="2468.0" width="6" height="6" fill="none" stroke="#6a6a7a" stroke-width="0.9"/>
<rect x="1634.0" y="2478.0" width="6" height="6" fill="none" stroke="#6a6a7a" stroke-width="0.9"/>
<rect x="1642.5" y="2478.0" width="6" height="6" fill="none" stroke="#6a6a7a" stroke-width="0.9"/>
<rect x="1651.0" y="2478.0" width="6" height="6" fill="none" stroke="#6a6a7a" stroke-width="0.9"/>
<rect x="1634.0" y="2488.0" width="6" height="6" fill="none" stroke="#6a6a7a" stroke-width="0.9"/>
<rect x="1642.5" y="2488.0" width="6" height="6" fill="none" stroke="#6a6a7a" stroke-width="0.9"/>
<rect x="1651.0" y="2488.0" width="6" height="6" fill="none" stroke="#6a6a7a" stroke-width="0.9"/>
<rect x="1720.0" y="2490" width="7" height="7" fill="none" stroke="#6a6a7a" stroke-width="0.9"/>
<rect x="1729.0" y="2490" width="7" height="7" fill="none" stroke="#6a6a7a" stroke-width="0.9"/>
<rect x="1738.0" y="2490" width="7" height="7" fill="none" stroke="#6a6a7a" stroke-width="0.9"/>
<rect x="1668" y="2502" width="40" height="3" fill="#9a9a9a"/>
<rect x="1708" y="828" width="25" height="17" fill="#b4bd3c"/>
<rect x="1707.5" y="1448.8" width="26.5" height="15.7" fill="#2fae36"/>
<rect x="1660" y="1452" width="3" height="16" fill="#b02020"/>
<rect x="1708" y="1122" width="3" height="2" fill="#d03030"/>
<rect x="1716" y="1122" width="3" height="2" fill="#d03030"/>
<rect x="1724" y="1122" width="3" height="2" fill="#d03030"/>
<rect x="1732" y="1122" width="3" height="2" fill="#d03030"/>
<use href="#switch" x="1230.5" y="1211.5" width="185.5" height="36.5"/>
<use href="#switch" x="1218.7" y="2928.8" width="185.29999999999995" height="35.59999999999991"/>
<polygon points="756,600 858.4,600 870.5,670 746,670" fill="#d2d2d3"/>
<polygon points="746,667 870.5,667 871,675.5 746,675.5" fill="#8d8d8f"/>
<rect x="770.7" y="603" width="73.7" height="8.4" rx="4.2" fill="#a3a3a5"/>
<polygon points="770,616 845.7,616 852,665.4 766,665.4" fill="#12163a"/>
<polygon points="772,619.5 844,619.5 849,662 769,662" fill="#1c2258"/>
<rect x="772" y="637" width="74" height="1.6" fill="#9a62c0"/>
<circle cx="853" cy="607" r="2.5" fill="#999"/>
<circle cx="761" cy="606" r="4" fill="#6a6a6a"/>
<path d="M760.5,607 L757,592 Q756,583 772,580 L881,561" fill="none" stroke="#5c5c5c" stroke-width="4.5"/>
<g transform="translate(880,561) rotate(-12)"><polygon points="0,-3 16,-6.5 16,6.5 0,3" fill="#858585"/><rect x="15" y="-7" width="37" height="14" rx="4" fill="#8e8e8e"/><rect x="15" y="-2.5" width="37" height="3" fill="#b8b8b8"/><rect x="17" y="-7" width="3" height="14" fill="#1a1a1a"/></g>
<path d="M344.5,816 C344,804 345,798 351,794 L406,760.5" fill="none" stroke="#2a2a2a" stroke-width="2.8"/>
<path d="M405,761 L420,751" fill="none" stroke="#1e1e1e" stroke-width="6" stroke-linecap="round"/>
<circle cx="410.8" cy="757" r="2.3" fill="#d03a30"/>
<rect x="341.5" y="815" width="5.5" height="22" fill="#2a2a2a"/>
<path d="M327,845 Q328,836 345,835.5 L356,836 Q372,840 375.5,848 L375.5,853 Q366,857.5 350,856.5 Q329,855.5 327,852 Z" fill="#1f1f22"/>
<rect x="749.3" y="819.6" width="160.1" height="125.9" fill="#5d6f86"/>
<rect x="749.3" y="819.6" width="4" height="125.9" fill="#3f4c5e"/>
<circle cx="759.6" cy="828.3" r="4.2" fill="#1c1c1c"/>
<circle cx="759.6" cy="839.8" r="3.2" fill="#b8a060"/><circle cx="759.6" cy="839.8" r="1.4" fill="#222"/>
<circle cx="759.6" cy="856" r="2.6" fill="#5fb8a4"/>
<circle cx="759.6" cy="865" r="2.6" fill="#5fb8a4"/>
<circle cx="759.6" cy="873" r="2.6" fill="#5fb8a4"/>
<circle cx="759.6" cy="881.7" r="2.6" fill="#5fb8a4"/>
<rect x="754.6" y="886.6" width="10" height="4.4" fill="#d3d6de"/>
<rect x="757.6" y="893" width="4" height="3.5" fill="#eee"/>
<rect x="758.9" y="910" width="1.4" height="30" fill="#111"/>
<rect x="756.6" y="930" width="6" height="12" fill="#e6e6e6"/>
<circle cx="771" cy="828.3" r="4.2" fill="#1c1c1c"/>
<circle cx="771" cy="839.8" r="3.2" fill="#b8a060"/><circle cx="771" cy="839.8" r="1.4" fill="#222"/>
<circle cx="771" cy="856" r="2.6" fill="#5fb8a4"/>
<circle cx="771" cy="865" r="2.6" fill="#5fb8a4"/>
<circle cx="771" cy="873" r="2.6" fill="#5fb8a4"/>
<circle cx="771" cy="881.7" r="2.6" fill="#5fb8a4"/>
<rect x="766" y="886.6" width="10" height="4.4" fill="#d3d6de"/>
<rect x="769" y="893" width="4" height="3.5" fill="#eee"/>
<rect x="770.3" y="910" width="1.4" height="30" fill="#111"/>
<rect x="768" y="930" width="6" height="12" fill="#e6e6e6"/>
<circle cx="782.5" cy="828.3" r="4.2" fill="#1c1c1c"/>
<circle cx="782.5" cy="839.8" r="3.2" fill="#b8a060"/><circle cx="782.5" cy="839.8" r="1.4" fill="#222"/>
<circle cx="782.5" cy="856" r="2.6" fill="#5fb8a4"/>
<circle cx="782.5" cy="865" r="2.6" fill="#5fb8a4"/>
<circle cx="782.5" cy="873" r="2.6" fill="#5fb8a4"/>
<circle cx="782.5" cy="881.7" r="2.6" fill="#5fb8a4"/>
<rect x="777.5" y="886.6" width="10" height="4.4" fill="#d3d6de"/>
<rect x="780.5" y="893" width="4" height="3.5" fill="#eee"/>
<rect x="781.8" y="910" width="1.4" height="30" fill="#111"/>
<rect x="779.5" y="930" width="6" height="12" fill="#e6e6e6"/>
<circle cx="794" cy="828.3" r="4.2" fill="#1c1c1c"/>
<circle cx="794" cy="839.8" r="3.2" fill="#b8a060"/><circle cx="794" cy="839.8" r="1.4" fill="#222"/>
<circle cx="794" cy="856" r="2.6" fill="#5fb8a4"/>
<circle cx="794" cy="865" r="2.6" fill="#5fb8a4"/>
<circle cx="794" cy="873" r="2.6" fill="#5fb8a4"/>
<circle cx="794" cy="881.7" r="2.6" fill="#5fb8a4"/>
<rect x="789" y="886.6" width="10" height="4.4" fill="#d3d6de"/>
<rect x="792" y="893" width="4" height="3.5" fill="#eee"/>
<rect x="793.3" y="910" width="1.4" height="30" fill="#111"/>
<rect x="791" y="930" width="6" height="12" fill="#e6e6e6"/>
<circle cx="806" cy="826" r="1.8" fill="#e8e8e8"/><circle cx="806" cy="831" r="1.8" fill="#d24a2a"/>
<circle cx="806" cy="839.8" r="3.2" fill="#b8a060"/><circle cx="806" cy="839.8" r="1.4" fill="#222"/>
<circle cx="806" cy="856" r="2.6" fill="#5fb8a4"/>
<circle cx="806" cy="865" r="2.6" fill="#5fb8a4"/>
<circle cx="806" cy="873" r="2.6" fill="#5fb8a4"/>
<circle cx="806" cy="881.7" r="2.6" fill="#5fb8a4"/>
<rect x="801" y="886.6" width="10" height="4.4" fill="#d3d6de"/>
<rect x="804" y="893" width="4" height="3.5" fill="#eee"/>
<rect x="805.3" y="910" width="1.4" height="30" fill="#111"/>
<rect x="803" y="926" width="6" height="10" fill="#e6e6e6"/>
<circle cx="817.6" cy="826" r="1.8" fill="#e8e8e8"/><circle cx="817.6" cy="831" r="1.8" fill="#d24a2a"/>
<circle cx="817.6" cy="839.8" r="3.2" fill="#b8a060"/><circle cx="817.6" cy="839.8" r="1.4" fill="#222"/>
<circle cx="817.6" cy="856" r="2.6" fill="#5fb8a4"/>
<circle cx="817.6" cy="865" r="2.6" fill="#5fb8a4"/>
<circle cx="817.6" cy="873" r="2.6" fill="#5fb8a4"/>
<circle cx="817.6" cy="881.7" r="2.6" fill="#5fb8a4"/>
<rect x="812.6" y="886.6" width="10" height="4.4" fill="#d3d6de"/>
<rect x="815.6" y="893" width="4" height="3.5" fill="#eee"/>
<rect x="816.9" y="910" width="1.4" height="30" fill="#111"/>
<rect x="814.6" y="926" width="6" height="10" fill="#e6e6e6"/>
<circle cx="829.3" cy="826" r="1.8" fill="#e8e8e8"/><circle cx="829.3" cy="831" r="1.8" fill="#d24a2a"/>
<circle cx="829.3" cy="839.8" r="3.2" fill="#b8a060"/><circle cx="829.3" cy="839.8" r="1.4" fill="#222"/>
<circle cx="829.3" cy="856" r="2.6" fill="#5fb8a4"/>
<circle cx="829.3" cy="865" r="2.6" fill="#5fb8a4"/>
<circle cx="829.3" cy="873" r="2.6" fill="#5fb8a4"/>
<circle cx="829.3" cy="881.7" r="2.6" fill="#5fb8a4"/>
<rect x="824.3" y="886.6" width="10" height="4.4" fill="#d3d6de"/>
<rect x="827.3" y="893" width="4" height="3.5" fill="#eee"/>
<rect x="828.5999999999999" y="910" width="1.4" height="30" fill="#111"/>
<rect x="826.3" y="926" width="6" height="10" fill="#e6e6e6"/>
<circle cx="840.8" cy="826" r="1.8" fill="#e8e8e8"/><circle cx="840.8" cy="831" r="1.8" fill="#d24a2a"/>
<circle cx="840.8" cy="839.8" r="3.2" fill="#b8a060"/><circle cx="840.8" cy="839.8" r="1.4" fill="#222"/>
<circle cx="840.8" cy="856" r="2.6" fill="#5fb8a4"/>
<circle cx="840.8" cy="865" r="2.6" fill="#5fb8a4"/>
<circle cx="840.8" cy="873" r="2.6" fill="#5fb8a4"/>
<circle cx="840.8" cy="881.7" r="2.6" fill="#5fb8a4"/>
<rect x="835.8" y="886.6" width="10" height="4.4" fill="#d3d6de"/>
<rect x="838.8" y="893" width="4" height="3.5" fill="#eee"/>
<rect x="840.0999999999999" y="910" width="1.4" height="30" fill="#111"/>
<rect x="837.8" y="926" width="6" height="10" fill="#e6e6e6"/>
<circle cx="865.3" cy="828" r="4.2" fill="#1c1c1c"/><circle cx="898.5" cy="826" r="4.2" fill="#1c1c1c"/>
<circle cx="876" cy="830" r="3" fill="#b8a060"/><circle cx="887" cy="830" r="3" fill="#b8a060"/>
<circle cx="876" cy="840" r="3" fill="#b8a060"/><circle cx="887" cy="840" r="3" fill="#b8a060"/>
<rect x="849" y="840" width="22" height="4" fill="#c8ccd6"/>
<rect x="851" y="854" width="52" height="43" fill="#101018"/>
<rect x="853.5" y="857" width="47" height="37" fill="#2338a8"/>
<rect x="853.5" y="857" width="47" height="14" fill="#1b2a80"/>
<ellipse cx="877" cy="885" rx="16" ry="3" fill="#5a7ae0"/>
<rect x="859.3" y="910" width="1.4" height="28" fill="#111"/><rect x="867.9" y="910" width="1.4" height="28" fill="#111"/>
<rect x="856.5" y="932" width="7" height="11" fill="#c03a3a"/><rect x="865" y="932" width="7" height="11" fill="#c03a3a"/>
<rect x="887" y="910" width="12.6" height="31.7" fill="#2c2f36"/>
<rect x="877" y="916" width="4" height="4" fill="#eee"/>
<rect x="718" y="1247" width="165" height="34" fill="#e6e6e6"/>
<rect x="727" y="1165.4" width="148.7" height="98.6" fill="#1e1e20"/>
<rect x="747" y="1174" width="94.4" height="73" fill="#d6d6d6"/>
<rect x="747" y="1174" width="94.4" height="4.5" fill="#a8d0e8"/>
<rect x="747" y="1235.5" width="87" height="11.5" fill="#eeeeee"/>
<rect x="834.3" y="1178" width="7.1" height="58" fill="#7cc0d8"/>
<rect x="834.3" y="1241" width="7.1" height="5" fill="#0e5a1e"/>
<rect x="731" y="1183" width="10" height="51.5" fill="#0e0e10"/>
<rect x="862" y="1183" width="10" height="51.5" fill="#0e0e10"/>
<rect x="747" y="1166" width="16" height="3" fill="#999"/>
<circle cx="852" cy="1184" r="3" fill="#8a9ac0"/>
<circle cx="851" cy="1227" r="3.5" fill="none" stroke="#555" stroke-width="1"/>
<polygon points="280.2,1243.4 351.9,1241.8 384.2,1241.4 378.7,1355.2 351,1374.9 289.7,1364" fill="#c39a4e"/>
<polygon points="281.8,1243 351.9,1241.8 351,1374 291,1363" fill="#1d1d20"/>
<polygon points="366.9,1257.6 381.4,1256 379.4,1325.3 364.5,1346.5" fill="#2b2a28"/>
<circle cx="374" cy="1296" r="1.5" fill="#b03030"/><circle cx="374" cy="1318" r="1.5" fill="#2a8a4a"/><circle cx="376" cy="1306" r="1.3" fill="#c8c060"/>
<polygon points="715.3,1870.0 791.2,1864 800.2,1871.0 800.5,1996.0 791.2,1992.0 717,1978.0" fill="#1f2023"/>
<polygon points="715.3,1870.0 791.2,1864 791.2,1992.0 717,1978.0" fill="#c8cad2"/>
<rect x="716" y="1898.0" width="75" height="1.8" fill="#9ea0a8"/>
<rect x="716" y="1901.8" width="75" height="1.8" fill="#9ea0a8"/>
<rect x="716" y="1905.6" width="75" height="1.8" fill="#9ea0a8"/>
<rect x="716" y="1909.4" width="75" height="1.8" fill="#9ea0a8"/>
<rect x="716" y="1913.2" width="75" height="1.8" fill="#9ea0a8"/>
<rect x="716" y="1917.0" width="75" height="1.8" fill="#9ea0a8"/>
<rect x="716" y="1920.8" width="75" height="1.8" fill="#9ea0a8"/>
<rect x="716" y="1924.6" width="75" height="1.8" fill="#9ea0a8"/>
<rect x="720" y="1872.0" width="16" height="4" fill="#55565c"/>
<rect x="771" y="1870.0" width="14" height="4" fill="#66676c"/>
<circle cx="718" cy="1879.0" r="1.5" fill="#6a6b70"/>
<circle cx="786" cy="1880.0" r="1.5" fill="#6a6b70"/>
<circle cx="719" cy="1967.0" r="1.5" fill="#6a6b70"/>
<circle cx="785" cy="1970.0" r="1.5" fill="#6a6b70"/>
<circle cx="751" cy="1970.0" r="1.5" fill="#6a6b70"/>
<circle cx="753" cy="1964.3" r="4.6" fill="#4a4a50"/>
<circle cx="753" cy="1964.3" r="2.4" fill="#7a7c84"/>
<circle cx="753" cy="1951.5" r="2.2" fill="#e08a80"/>
<polygon points="713.3,2176.2 789.2,2170 798.2,2177.2 798.5,2306.0 789.2,2301.8 715,2287.4" fill="#1f2023"/>
<polygon points="713.3,2176.2 789.2,2170 789.2,2301.8 715,2287.4" fill="#c8cad2"/>
<rect x="714" y="2205.0" width="75" height="1.8" fill="#9ea0a8"/>
<rect x="714" y="2208.9" width="75" height="1.8" fill="#9ea0a8"/>
<rect x="714" y="2212.8" width="75" height="1.8" fill="#9ea0a8"/>
<rect x="714" y="2216.8" width="75" height="1.8" fill="#9ea0a8"/>
<rect x="714" y="2220.7" width="75" height="1.8" fill="#9ea0a8"/>
<rect x="714" y="2224.6" width="75" height="1.8" fill="#9ea0a8"/>
<rect x="714" y="2228.5" width="75" height="1.8" fill="#9ea0a8"/>
<rect x="714" y="2232.4" width="75" height="1.8" fill="#9ea0a8"/>
<rect x="718" y="2178.2" width="16" height="4" fill="#55565c"/>
<rect x="769" y="2176.2" width="14" height="4" fill="#66676c"/>
<circle cx="716" cy="2185.4" r="1.5" fill="#6a6b70"/>
<circle cx="784" cy="2186.5" r="1.5" fill="#6a6b70"/>
<circle cx="717" cy="2276.1" r="1.5" fill="#6a6b70"/>
<circle cx="783" cy="2279.2" r="1.5" fill="#6a6b70"/>
<circle cx="749" cy="2279.2" r="1.5" fill="#6a6b70"/>
<circle cx="732.7" cy="2273.3" r="4.6" fill="#4a4a50"/>
<circle cx="732.7" cy="2273.3" r="2.4" fill="#7a7c84"/>
<circle cx="732.7" cy="2260.1" r="2.2" fill="#e08a80"/>
<circle cx="765.4" cy="2273.3" r="4.6" fill="#4a4a50"/>
<circle cx="765.4" cy="2273.3" r="2.4" fill="#7a7c84"/>
<rect x="760.4" y="2259.1" width="10" height="5" fill="#5ab0e0"/>
<polygon points="697,2547.5 753.4,2595.5 820.2,2505 819.2,2511 752.4,2602.5 698,2556.5" fill="#2a2a2c"/>
<polygon points="697,2550.5 753.4,2598.5 753.4,2600.5 697,2553.5" fill="#d8d8d8"/>
<polygon points="759.7,2477 820.2,2505 753.4,2595.5 697,2547.5" fill="#bdbdbf"/>
<polygon points="779.7,2500.5 807.3,2514.6 792.0,2535.1 764.9,2518.9" fill="#a2a2a6"/>
<line x1="779.6" y1="2502.8" x2="804.8" y2="2515.8" stroke="#55555a" stroke-width="1.3"/>
<line x1="777.6" y1="2505.3" x2="802.7" y2="2518.6" stroke="#55555a" stroke-width="1.3"/>
<line x1="775.5" y1="2507.9" x2="800.5" y2="2521.5" stroke="#55555a" stroke-width="1.3"/>
<line x1="773.4" y1="2510.5" x2="798.4" y2="2524.3" stroke="#55555a" stroke-width="1.3"/>
<line x1="771.4" y1="2513.0" x2="796.3" y2="2527.1" stroke="#55555a" stroke-width="1.3"/>
<line x1="769.3" y1="2515.6" x2="794.2" y2="2530.0" stroke="#55555a" stroke-width="1.3"/>
<line x1="767.2" y1="2518.2" x2="792.0" y2="2532.8" stroke="#55555a" stroke-width="1.3"/>
<path d="M656,2471.9 L747.6,2460.4 Q763.6,2457.4 767.3,2486" fill="none" stroke="#2c2c2e" stroke-width="5"/>
<rect x="616.3" y="2465.3" width="39.700000000000045" height="13.199999999999818" rx="6" fill="#2a2a2c"/>
<rect x="641.3" y="2466.3" width="3" height="11.199999999999818" fill="#7a2a2a"/>
<rect x="737.5" y="2505.7" width="6" height="9" fill="#333" transform="rotate(25 740.5 2508.7)"/>
<circle cx="747" cy="2540" r="3.5" fill="#9aa8c0"/><circle cx="754" cy="2531" r="1.8" fill="#d8704a"/>
<polygon points="698.4,2823 757.6,2871 827.2,2777 826.2,2783 756.6,2878 699.4,2832" fill="#2a2a2c"/>
<polygon points="698.4,2826 757.6,2874 757.6,2876 698.4,2829" fill="#d8d8d8"/>
<polygon points="763.1,2747.8 827.2,2777 757.6,2871 698.4,2823" fill="#bdbdbf"/>
<polygon points="784.5,2772.4 813.7,2787.0 797.8,2808.3 769.1,2791.8" fill="#a2a2a6"/>
<line x1="784.4" y1="2774.8" x2="811.1" y2="2788.2" stroke="#55555a" stroke-width="1.3"/>
<line x1="782.3" y1="2777.5" x2="808.8" y2="2791.2" stroke="#55555a" stroke-width="1.3"/>
<line x1="780.1" y1="2780.2" x2="806.6" y2="2794.1" stroke="#55555a" stroke-width="1.3"/>
<line x1="778.0" y1="2782.9" x2="804.4" y2="2797.1" stroke="#55555a" stroke-width="1.3"/>
<line x1="775.9" y1="2785.6" x2="802.2" y2="2800.0" stroke="#55555a" stroke-width="1.3"/>
<line x1="773.7" y1="2788.3" x2="800.0" y2="2803.0" stroke="#55555a" stroke-width="1.3"/>
<line x1="771.6" y1="2791.0" x2="797.8" y2="2805.9" stroke="#55555a" stroke-width="1.3"/>
<path d="M656,2742.0 L751.7,2729.7 Q767.7,2726.7 771.5,2760" fill="none" stroke="#2c2c2e" stroke-width="5"/>
<rect x="614.2" y="2734" width="41.799999999999955" height="16" rx="6" fill="#2a2a2c"/>
<rect x="639.2" y="2735" width="3" height="14" fill="#7a2a2a"/>
<rect x="740.0" y="2778.6" width="6" height="9" fill="#333" transform="rotate(25 743.0 2781.6)"/>
<circle cx="740.9" cy="2805" r="3.5" fill="#9aa8c0"/><circle cx="764.5" cy="2821.6" r="3.5" fill="#9aa8c0"/>
<rect x="772" y="2807" width="8" height="10" fill="#6ab0d8"/><circle cx="747.8" cy="2795" r="1.8" fill="#d8704a"/>
<path d="M727.7,2982.4 Q760,2984 795.5,2994 L794.2,3150.8 Q760,3150 726,3152.6 L724.6,3150 Z" fill="#c3c3c7"/>
<path d="M727.7,2982.4 L739.3,2984 L739.3,3150.5 L726,3152.6 L724.6,3150 Z" fill="#d6d6d8"/>
<path d="M727.7,2982.4 Q760,2984 795.5,2994" fill="none" stroke="#555" stroke-width="2"/>
<path d="M726,3150 Q760,3147 794.2,3148.5 L794.2,3154 Q760,3158 728.6,3159.7 Z" fill="#a9a9ad"/>
<rect x="763" y="3146.4" width="16" height="6" fill="#3a3a3a"/>
<rect x="745" y="3000" width="18" height="80" fill="#d8d8dc"/>
<path d="M1668,2857 L1668,2706.6 Q1668,2700.6 1674,2700.6 L1761.8,2700.6 Q1767.8,2700.6 1767.8,2706.6 L1767.8,2857 Z" fill="#e5532b"/>
<rect x="1668" y="2855" width="99.79999999999995" height="2" fill="#b83a20"/>
<rect x="1706.9" y="2715.6" width="22" height="4" fill="#f0c0a8"/>
<rect x="1747.8" y="2716.6" width="10" height="2.5" fill="#f0b8a0"/>
<circle cx="1717.9" cy="2747.6" r="17" fill="#d94e2a"/>
<circle cx="1717.9" cy="2798.2999999999997" r="3.5" fill="#5a6a8a"/>
<rect x="1693.9" y="2826.6" width="48" height="7" fill="#f2b8a0"/>
<rect x="1697.9" y="2836.6" width="40" height="3" fill="#eea890"/>
<path d="M1663,3130 L1663,2980.5 Q1663,2974.5 1669,2974.5 L1759,2974.5 Q1765,2974.5 1765,2980.5 L1765,3130 Z" fill="#e5532b"/>
<rect x="1663" y="3128" width="102" height="2" fill="#b83a20"/>
<rect x="1703.0" y="2989.5" width="22" height="4" fill="#f0c0a8"/>
<rect x="1745" y="2990.5" width="10" height="2.5" fill="#f0b8a0"/>
<rect x="1704.0" y="2997.5" width="20" height="26" fill="#d24e2a"/>
<rect x="1670" y="3029" width="87" height="47" fill="#2a1a18"/>
<text x="1713.5" y="3051" font-size="21" fill="#c81c14" text-anchor="middle" textLength="80" lengthAdjust="spacingAndGlyphs">紧急求助</text>
<text x="1713.5" y="3073" font-size="21" fill="#c81c14" text-anchor="middle" textLength="80" lengthAdjust="spacingAndGlyphs">对讲终端</text>
<circle cx="1713.5" cy="3085" r="3.2" fill="#5a6a8a"/>
<rect x="1692.0" y="3106" width="44" height="7" fill="#f2b8a0"/>
<rect x="1696.0" y="3115" width="36" height="3" fill="#eea890"/>
<text x="720.4" y="707.9" font-size="21.6" fill="#231f20" textLength="185.39999999999998" lengthAdjust="spacingAndGlyphs">IP寻呼话筒K-315A</text>
<text x="292" y="883.1" font-size="20.0" fill="#231f20" textLength="100" lengthAdjust="spacingAndGlyphs">话筒S-609</text>
<text x="279" y="991.0" font-size="21.1" fill="#231f20" textLength="126" lengthAdjust="spacingAndGlyphs">调谐器K–904</text>
<text x="282" y="1104.1" font-size="20.0" fill="#231f20" textLength="130" lengthAdjust="spacingAndGlyphs">DVD　K-950</text>
<text x="754" y="977.0" font-size="21.1" fill="#231f20" textLength="143" lengthAdjust="spacingAndGlyphs">IP调音台IPMG</text>
<text x="552" y="1111.9" font-size="22.1" fill="#231f20" textLength="86" lengthAdjust="spacingAndGlyphs">其他音源</text>
<text x="753" y="1104.0" font-size="21.1" fill="#231f20" textLength="106" lengthAdjust="spacingAndGlyphs">IP编码终端</text>
<text x="777" y="1132.2" font-size="18.9" fill="#231f20" textLength="64" lengthAdjust="spacingAndGlyphs">K-323</text>
<text x="1090" y="827.9" font-size="22.1" fill="#231f20" textLength="130" lengthAdjust="spacingAndGlyphs">IP电话接入器</text>
<text x="1117" y="855.2" font-size="18.9" fill="#231f20" textLength="63" lengthAdjust="spacingAndGlyphs">K-325</text>
<text x="1663" y="703.9" font-size="22.1" fill="#231f20" textLength="107" lengthAdjust="spacingAndGlyphs">IP网络前置</text>
<text x="1663" y="730.9" font-size="22.1" fill="#231f20" textLength="107" lengthAdjust="spacingAndGlyphs">终端K-335</text>
<text x="1671" y="896.9" font-size="22.1" fill="#231f20" textLength="108" lengthAdjust="spacingAndGlyphs">IP网络前置</text>
<text x="1671" y="923.0" font-size="21.1" fill="#231f20" textLength="108" lengthAdjust="spacingAndGlyphs">终端K-336</text>
<text x="1964" y="705.8" font-size="23.2" fill="#231f20" textLength="154" lengthAdjust="spacingAndGlyphs">合并式广播功放</text>
<text x="2283" y="698.9" font-size="22.1" fill="#231f20" textLength="65" lengthAdjust="spacingAndGlyphs">扬声器</text>
<text x="1989" y="888.8" font-size="23.2" fill="#231f20" textLength="110" lengthAdjust="spacingAndGlyphs">前置放大器</text>
<text x="1965" y="999.8" font-size="23.2" fill="#231f20" textLength="154" lengthAdjust="spacingAndGlyphs">纯后级广播功放</text>
<text x="2283" y="1003.8" font-size="23.2" fill="#231f20" textLength="65" lengthAdjust="spacingAndGlyphs">扬声器</text>
<text x="1282" y="1314.8" font-size="23.2" fill="#231f20" textLength="64" lengthAdjust="spacingAndGlyphs">交换机</text>
<text x="1568" y="1180.9" font-size="22.1" fill="#231f20" textLength="127" lengthAdjust="spacingAndGlyphs">八分区IP网络</text>
<text x="1568" y="1207.9" font-size="21.6" fill="#231f20" textLength="123" lengthAdjust="spacingAndGlyphs">终端K-322A</text>
<text x="1766" y="1357.4" font-size="21.6" fill="#231f20" textLength="53.5" lengthAdjust="spacingAndGlyphs">分区1</text>
<text x="1943.6" y="1357.4" font-size="21.6" fill="#231f20" textLength="54.40000000000009" lengthAdjust="spacingAndGlyphs">分区2</text>
<text x="2118.6" y="1357.4" font-size="21.6" fill="#231f20" textLength="53.40000000000009" lengthAdjust="spacingAndGlyphs">分区3</text>
<text x="2294" y="1357.4" font-size="21.6" fill="#231f20" textLength="54" lengthAdjust="spacingAndGlyphs">分区4</text>
<text x="1967.5" y="1166.9" font-size="22.1" fill="#231f20" textLength="152.5" lengthAdjust="spacingAndGlyphs">合并式广播功放</text>
<text x="2279" y="1514.1" font-size="20.4" fill="#231f20" textLength="65" lengthAdjust="spacingAndGlyphs">扬声器</text>
<text x="1688" y="1513.0" font-size="21.1" fill="#231f20" textLength="107" lengthAdjust="spacingAndGlyphs">IP网络功放</text>
<text x="287" y="1417.9" font-size="22.6" fill="#231f20" textLength="108" lengthAdjust="spacingAndGlyphs">IP监听终端</text>
<text x="307" y="1443.3" font-size="17.9" fill="#231f20" textLength="62" lengthAdjust="spacingAndGlyphs">K-316</text>
<text x="727" y="1305.1" font-size="20.0" fill="#231f20" textLength="151" lengthAdjust="spacingAndGlyphs">IP广播控制中心</text>
<text x="753.6" y="1333.2" font-size="18.9" fill="#231f20" textLength="75.39999999999998" lengthAdjust="spacingAndGlyphs">K-3800</text>
<text x="697.6" y="1499.8" font-size="23.2" fill="#231f20" textLength="216.10000000000002" lengthAdjust="spacingAndGlyphs">系统定时控制器K-330</text>
<text x="495.7" y="1654.0" font-size="21.1" fill="#231f20" textLength="87.80000000000001" lengthAdjust="spacingAndGlyphs">报警信号</text>
<text x="697" y="1702.9" font-size="22.1" fill="#231f20" textLength="215" lengthAdjust="spacingAndGlyphs">IP消防报警主机K-320</text>
<text x="690.8" y="2039.4" font-size="22.7" fill="#231f20" textLength="153.20000000000005" lengthAdjust="spacingAndGlyphs">壁挂式单键对讲</text>
<text x="714.4" y="2067.0" font-size="21.1" fill="#231f20" textLength="106.10000000000002" lengthAdjust="spacingAndGlyphs">终端K-309</text>
<text x="690.8" y="2353.6" font-size="22.9" fill="#231f20" textLength="153.20000000000005" lengthAdjust="spacingAndGlyphs">壁挂式双键对讲</text>
<text x="707" y="2381.0" font-size="21.1" fill="#231f20" textLength="121" lengthAdjust="spacingAndGlyphs">终端K-309B</text>
<text x="687" y="2646.8" font-size="23.2" fill="#231f20" textLength="153" lengthAdjust="spacingAndGlyphs">桌面式单键对讲</text>
<text x="710" y="2672.2" font-size="18.9" fill="#231f20" textLength="106" lengthAdjust="spacingAndGlyphs">终端K-310</text>
<text x="687" y="2902.8" font-size="23.2" fill="#231f20" textLength="153" lengthAdjust="spacingAndGlyphs">桌面式双键对讲</text>
<text x="703.5" y="2928.2" font-size="18.9" fill="#231f20" textLength="119.5" lengthAdjust="spacingAndGlyphs">终端K-310B</text>
<text x="1276" y="3003.0" font-size="21.1" fill="#231f20" textLength="65" lengthAdjust="spacingAndGlyphs">交换机</text>
<text x="682" y="3193.0" font-size="21.1" fill="#231f20" textLength="146" lengthAdjust="spacingAndGlyphs">IP网络防水音柱</text>
<text x="692.7" y="3216.2" font-size="18.9" fill="#231f20" textLength="126.29999999999995" lengthAdjust="spacingAndGlyphs">K–317/K–318</text>
<text x="1595" y="1887.4" font-size="22.6" fill="#231f20" textLength="214" lengthAdjust="spacingAndGlyphs">IP网络广播终端K-302</text>
<text x="1598" y="2213.0" font-size="21.5" fill="#231f20" textLength="214.5" lengthAdjust="spacingAndGlyphs">IP网络广播终端K-303</text>
<text x="1595" y="2552.7" font-size="24.2" fill="#231f20" textLength="215" lengthAdjust="spacingAndGlyphs">IP网络广播终端K-308</text>
<text x="2176.7" y="1866.4" font-size="22.7" fill="#231f20" textLength="108.30000000000018" lengthAdjust="spacingAndGlyphs">定阻扬声器</text>
<text x="2166" y="2189.9" font-size="22.1" fill="#231f20" textLength="108.69999999999982" lengthAdjust="spacingAndGlyphs">定阻扬声器</text>
<text x="2157" y="2556.4" font-size="22.6" fill="#231f20" textLength="110.80000000000018" lengthAdjust="spacingAndGlyphs">定阻扬声器</text>
<text x="1661" y="2892.9" font-size="20.3" fill="#231f20" textLength="123" lengthAdjust="spacingAndGlyphs">室外型IP网络</text>
<text x="1661" y="2921.1" font-size="20.2" fill="#231f20" textLength="137" lengthAdjust="spacingAndGlyphs">对讲终端K-311</text>
<text x="1658" y="3166.7" font-size="20.7" fill="#231f20" textLength="124" lengthAdjust="spacingAndGlyphs">室外型IP网络</text>
<text x="1658" y="3195.1" font-size="20.3" fill="#231f20" textLength="141" lengthAdjust="spacingAndGlyphs">对讲终端K-312</text>
<text x="2216" y="2978.0" font-size="21.1" fill="#231f20" textLength="109" lengthAdjust="spacingAndGlyphs">音频信号线</text>
<text x="2218" y="3026.0" font-size="21.1" fill="#231f20" textLength="140.69999999999982" lengthAdjust="spacingAndGlyphs">568B标准网线</text>
<text x="2219.7" y="3076.5" font-size="21.1" fill="#231f20" textLength="63.90000000000009" lengthAdjust="spacingAndGlyphs">功率线</text>
<text x="2219.7" y="3122.0" font-size="21.1" fill="#231f20" textLength="64.30000000000018" lengthAdjust="spacingAndGlyphs">控制线</text>
<text x="1310.5" y="1990.0" font-size="52" fill="#231f20" text-anchor="middle">局</text>
<text x="1310.5" y="2058.4" font-size="52" fill="#231f20" text-anchor="middle">域</text>
<text x="1310.5" y="2126.8" font-size="52" fill="#231f20" text-anchor="middle">网</text>
<text x="1310.5" y="2195.2" font-size="52" fill="#231f20" text-anchor="middle">或</text>
<text x="1310.5" y="2263.6" font-size="52" fill="#231f20" text-anchor="middle">广</text>
<text x="1310.5" y="2332.0" font-size="52" fill="#231f20" text-anchor="middle">域</text>
<text x="1310.5" y="2400.4" font-size="52" fill="#231f20" text-anchor="middle">网</text>
</svg></body></html>
